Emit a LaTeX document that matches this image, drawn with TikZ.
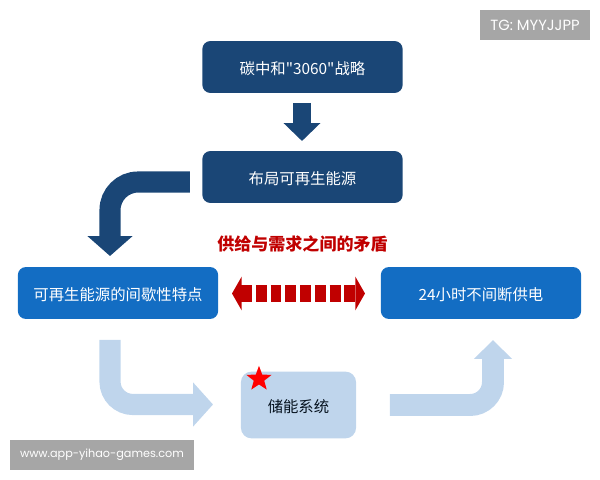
\documentclass[tikz,border=0pt]{standalone}
\usepackage{fontspec}
\setmainfont{Poppins}
\newfontfamily\cjk{Noto Sans CJK SC}
\usetikzlibrary{arrows.meta,shapes.geometric}
\definecolor{navy}{HTML}{1A4676}
\definecolor{midblue}{HTML}{136DC3}
\definecolor{paleblue}{HTML}{BFD5EC}
\definecolor{darkred}{HTML}{C00000}
\definecolor{markgray}{HTML}{A6A6A6}
\begin{document}
\begin{tikzpicture}[x=0.02cm,y=-0.02cm,
    every node/.style={inner sep=0,align=center,font=\cjk\fontsize{8.75}{10}\selectfont},
    box/.style={rounded corners=4.5pt,text=white,minimum height=29.5pt,minimum width=114pt,text height=9pt,text depth=0pt},
    tag/.style={fill=markgray,text=white,minimum height=17pt}]
        \useasboundingbox (0,0) rectangle (600,480);
        \node[box,fill=navy] (goal) at (302.5,67) {碳中和"3060"战略};
        \node[box,fill=navy] (layout) at (302.5,177) {布局可再生能源};
        \node[box,fill=midblue] (source) at (118,293) {可再生能源的间歇性特点};
        \node[box,fill=midblue] (supply) at (481,293) {24小时不间断供电};
        \node[box,fill=paleblue,text=black!75!navy,rounded corners=6pt,minimum width=65.5pt,minimum height=38pt,text height=8pt] (store) at (298.5,405) {储能系统};
        \node[star,star points=5,star point ratio=2.4,fill=red,minimum size=15pt] (star) at (259,379) {};
        \node[font=\cjk\bfseries\fontsize{9.7}{11}\selectfont,text=darkred] (clash) at (302.5,244) {供给与需求之间的矛盾};
        \node[tag,minimum width=62.5pt,font=\fontsize{8.4}{10}\selectfont] (tg) at (535,25) {TG: MYYJJPP};
        \node[tag,minimum width=104.5pt,font=\fontsize{6.4}{8}\selectfont] (site) at (102,455) {www.app-yihao-games.com};
        \coordinate (a1) at (302,103);
        \coordinate (a2) at (302,141);
        \coordinate (b1) at (190,182);
        \coordinate (b2) at (110,256);
        \coordinate (c1) at (232,293.5);
        \coordinate (c2) at (365,293.5);
        \coordinate (d1) at (110,340);
        \coordinate (d2) at (213,404.5);
        \coordinate (e1) at (390,405);
        \coordinate (e2) at (493,340);
        \draw[navy,line width=10.2pt,-{Triangle[length=10.2pt,width=20.4pt]}] (a1) -- (a2);
        \draw[navy,line width=12pt,rounded corners=16pt,-{Triangle[length=11.3pt,width=25pt]}] (b1) -| (b2);
        \draw[darkred,line width=9.8pt,dash pattern=on 6.2pt off 2.2pt,{Triangle[length=5.5pt,width=19pt]}-{Triangle[length=5.5pt,width=19pt]}] (c1) -- (c2);
        \draw[paleblue,line width=12pt,rounded corners=13pt,-{Triangle[length=11.3pt,width=24.4pt]}] (d1) |- (d2);
        \draw[paleblue,line width=12.5pt,rounded corners=13pt,-{Triangle[length=10.8pt,width=21pt]}] (e1) -| (e2);
      \end{tikzpicture}
\end{document}
